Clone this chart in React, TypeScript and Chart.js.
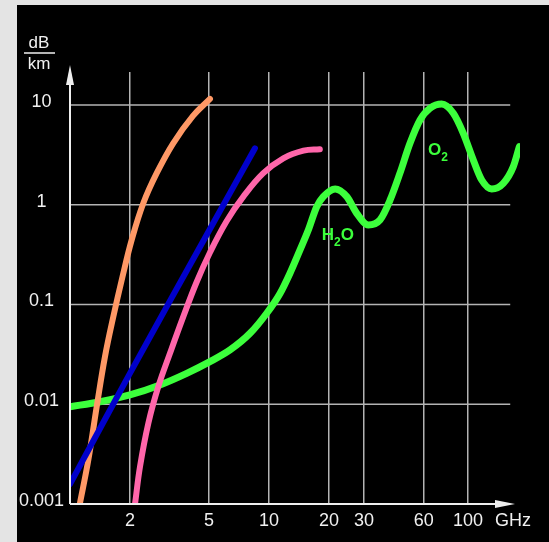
import React, { useEffect, useRef } from 'react';
import { Chart, registerables } from 'chart.js';

Chart.register(...registerables);

// ---- Data (frequency in GHz, attenuation in dB/km) ----
const orangeFreq = [1.12, 1.236, 1.362, 1.499, 1.651, 1.835, 2.042, 2.335, 2.727, 3.3, 4.15, 5.05];
const orangeAtten = [0.001, 0.00276, 0.00944, 0.03, 0.0755, 0.189, 0.444, 1.035, 2.07, 4.13, 7.76, 11.5];

const blueFreq = [1.0, 2.0, 5.05, 8.5];
const blueAtten = [0.00158, 0.0204, 0.571, 3.68];

const pinkFreq = [2.122, 2.248, 2.475, 2.778, 3.18, 3.71, 4.33, 5.05, 6.13, 7.43, 9.36, 11.8, 14.9, 18.0];
const pinkAtten = [0.001, 0.00237, 0.00644, 0.015, 0.0324, 0.0755, 0.168, 0.332, 0.687, 1.205, 2.07, 2.92, 3.48, 3.6];

const greenFreq = [
  1.0, 1.415, 2.0, 2.833, 3.86, 5.05, 6.37, 8.03, 9.74, 11.36, 12.75, 14.3, 15.76, 17.37, 18.75,
  21.5, 24.6, 27.6, 31.55, 36.1, 40.6, 45.5, 51.1, 57.4, 64.4, 73.8, 84.4, 94.7, 106.3, 117.2,
  131.5, 150.4, 168.9, 181.1,
];
const greenAtten = [
  0.00944, 0.0106, 0.0124, 0.0156, 0.0204, 0.0267, 0.035, 0.0514, 0.0817, 0.129, 0.206, 0.351,
  0.558, 0.955, 1.205, 1.44, 1.205, 0.82, 0.627, 0.703, 1.116, 2.07, 4.13, 7.08, 9.27, 10.2, 8.26,
  5.2, 2.81, 1.77, 1.44, 1.64, 2.41, 3.82,
];

const xTickValues = [2, 5, 10, 20, 30, 60, 100];
const xTickLabels = ['2', '5', '10', '20', '30', '60', '100'];
const yTickValues = [0.001, 0.01, 0.1, 1, 10];
const yTickLabels = ['0.001', '0.01', '0.1', '1', '10'];

const xMin = 1;
const xMax = 182.5;
const yMin = 0.001;
const yMax = 21.4;
const gridEndGHz = 163;

// annotation anchors (freq, attenuation)
const moleculeLabels = [
  { main: 'H', sub: '2', tail: 'O', freq: 18.4, atten: 0.443 },
  { main: 'O', sub: '2', tail: '', freq: 62.9, atten: 3.15 },
];

const COLORS = {
  orange: '#FF9966',
  blue: '#0000CC',
  pink: '#FF66AA',
  green: '#3CFF3C',
  grid: '#B4B4B4',
  axis: '#EEEEEE',
  text: '#F0F0F0',
};

const TICK_FONT = "'Liberation Sans', Arial, sans-serif";
const TEXT_FONT = "'Liberation Sans', Arial, sans-serif";

function pts(xs: number[], ys: number[]) {
  return xs.map((x, i) => ({ x, y: ys[i] }));
}

const overlayPlugin = {
  id: 'overlay',
  beforeDatasetsDraw(chart: any) {
    const { ctx, chartArea, scales } = chart;
    const xs = scales.x;
    const ys = scales.y;
    ctx.save();
    ctx.strokeStyle = COLORS.grid;
    ctx.lineWidth = 1.5;
    const xEnd = xs.getPixelForValue(gridEndGHz);
    yTickValues.slice(1).forEach((v) => {
      const py = ys.getPixelForValue(v);
      ctx.beginPath();
      ctx.moveTo(chartArea.left, py);
      ctx.lineTo(xEnd, py);
      ctx.stroke();
    });
    ctx.restore();
  },
  afterDatasetsDraw(chart: any) {
    const { ctx, chartArea, scales } = chart;
    const xs = scales.x;
    const ys = scales.y;
    const left = xs.getPixelForValue(xMin);
    const bottom = ys.getPixelForValue(yMin);
    ctx.save();
    // axes
    ctx.strokeStyle = COLORS.axis;
    ctx.fillStyle = COLORS.axis;
    ctx.lineWidth = 2;
    const yTip = chartArea.top - 7;
    const xTip = chartArea.right - 5;
    ctx.beginPath();
    ctx.moveTo(left, bottom);
    ctx.lineTo(left, yTip + 10);
    ctx.moveTo(left, bottom);
    ctx.lineTo(xTip - 10, bottom);
    ctx.stroke();
    // y arrow
    ctx.beginPath();
    ctx.moveTo(left, yTip);
    ctx.lineTo(left + 4, yTip + 20);
    ctx.lineTo(left - 4, yTip + 20);
    ctx.closePath();
    ctx.fill();
    // x arrow
    ctx.beginPath();
    ctx.moveTo(xTip, bottom);
    ctx.lineTo(xTip - 20, bottom - 4);
    ctx.lineTo(xTip - 20, bottom + 4);
    ctx.closePath();
    ctx.fill();

    // unit labels
    ctx.fillStyle = COLORS.text;
    ctx.textAlign = 'center';
    ctx.textBaseline = 'middle';
    ctx.font = `17px ${TICK_FONT}`;
    const ux = chartArea.left - 31;
    ctx.fillText('dB', ux, chartArea.top - 29);
    ctx.fillText('km', ux, chartArea.top - 8);
    ctx.lineWidth = 1.5;
    ctx.strokeStyle = COLORS.text;
    ctx.beginPath();
    ctx.moveTo(ux - 15, chartArea.top - 19);
    ctx.lineTo(ux + 16, chartArea.top - 19);
    ctx.stroke();

    ctx.textAlign = 'left';
    ctx.font = `18px ${TEXT_FONT}`;
    ctx.fillText('GHz', chartArea.right - 25, chartArea.bottom + 17);

    // molecule labels
    ctx.fillStyle = COLORS.green;
    ctx.textBaseline = 'alphabetic';
    moleculeLabels.forEach((m) => {
      let px = xs.getPixelForValue(m.freq);
      const py = ys.getPixelForValue(m.atten);
      ctx.font = `bold 17px ${TEXT_FONT}`;
      ctx.fillText(m.main, px, py);
      px += ctx.measureText(m.main).width;
      ctx.font = `bold 12px ${TEXT_FONT}`;
      ctx.fillText(m.sub, px, py + 6);
      px += ctx.measureText(m.sub).width;
      if (m.tail) {
        ctx.font = `bold 17px ${TEXT_FONT}`;
        ctx.fillText(m.tail, px, py);
      }
    });
    ctx.restore();
  },
};

export default function App() {
  const canvasRef = useRef<HTMLCanvasElement | null>(null);

  useEffect(() => {
    if (!canvasRef.current) return;
    const common = {
      pointRadius: 0,
      pointHoverRadius: 0,
      fill: false,
      tension: 0.4,
      borderCapStyle: 'round' as const,
      borderJoinStyle: 'round' as const,
    };
    const chart = new Chart(canvasRef.current, {
      type: 'line',
      data: {
        datasets: [
          { ...common, label: 'blue', data: pts(blueFreq, blueAtten), borderColor: COLORS.blue, borderWidth: 6, order: 0 },
          { ...common, label: 'orange', data: pts(orangeFreq, orangeAtten), borderColor: COLORS.orange, borderWidth: 6, order: 1 },
          { ...common, label: 'pink', data: pts(pinkFreq, pinkAtten), borderColor: COLORS.pink, borderWidth: 6, order: 2 },
          {
            ...common,
            label: 'green',
            data: pts(greenFreq, greenAtten),
            borderColor: COLORS.green,
            borderWidth: 7,
            cubicInterpolationMode: 'monotone',
            order: 3,
          },
        ],
      },
      options: {
        animation: false,
        responsive: false,
        devicePixelRatio: 1,
        events: [],
        layout: { padding: { left: 0, top: 67, right: 29, bottom: 0 } },
        plugins: {
          legend: { display: false },
          tooltip: { enabled: false },
          title: { display: false },
        },
        scales: {
          x: {
            type: 'logarithmic',
            min: xMin,
            max: xMax,
            border: { display: false },
            grid: { display: true, color: COLORS.grid, lineWidth: 1.5, drawTicks: false },
            afterBuildTicks: (scale: any) => {
              scale.ticks = xTickValues.map((v) => ({ value: v }));
            },
            afterFit: (scale: any) => {
              scale.height = 38;
            },
            ticks: {
              autoSkip: false,
              maxRotation: 0,
              padding: 6,
              color: COLORS.text,
              font: { family: TICK_FONT, size: 18 },
              callback: (_v: any, i: number) => xTickLabels[i],
            },
          },
          y: {
            type: 'logarithmic',
            min: yMin,
            max: yMax,
            border: { display: false },
            grid: { display: false, drawTicks: false },
            afterBuildTicks: (scale: any) => {
              scale.ticks = yTickValues.map((v) => ({ value: v }));
            },
            afterFit: (scale: any) => {
              scale.width = 53;
            },
            ticks: {
              autoSkip: false,
              padding: 6,
              labelOffset: -3,
              crossAlign: 'center',
              color: COLORS.text,
              font: { family: TICK_FONT, size: 18 },
              callback: (_v: any, i: number) => yTickLabels[i],
            },
          },
        },
      },
      plugins: [overlayPlugin],
    } as any);
    return () => chart.destroy();
  }, []);

  return (
    <div style={{ position: 'fixed', left: 0, top: 0, width: 549, height: 542, background: '#E4E4E4', overflow: 'hidden' }}>
      <canvas
        ref={canvasRef}
        width={532}
        height={537}
        style={{ position: 'absolute', left: 17, top: 5, width: 532, height: 537, background: '#000' }}
      />
    </div>
  );
}
